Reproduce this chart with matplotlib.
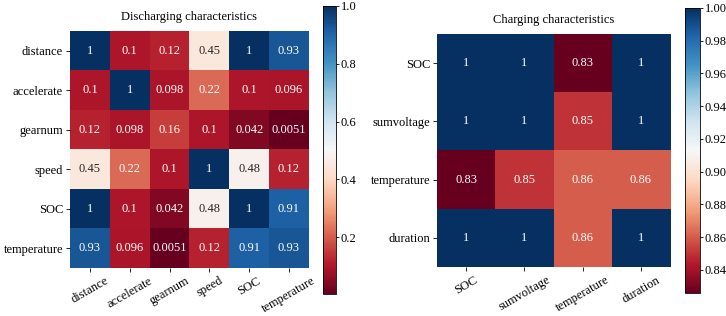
import numpy as np
import matplotlib.pyplot as plt
from matplotlib.colors import Normalize, to_rgb

plt.rcParams["font.family"] = ["Liberation Serif", "DejaVu Serif"]
plt.rcParams["font.size"] = 9

# ---------- data ----------
dis_labels = ["distance", "accelerate", "gearnum", "speed", "SOC", "temperature"]
dis_values = np.array([
    [1, 0.1, 0.12, 0.45, 1, 0.93],
    [0.1, 1, 0.098, 0.22, 0.1, 0.096],
    [0.12, 0.098, 0.16, 0.1, 0.042, 0.0051],
    [0.45, 0.22, 0.1, 1, 0.48, 0.12],
    [1, 0.1, 0.042, 0.48, 1, 0.91],
    [0.93, 0.096, 0.0051, 0.12, 0.91, 0.93],
])

chg_labels = ["SOC", "sumvoltage", "temperature", "duration"]
chg_values = np.array([
    [1, 1, 0.826, 1],
    [1, 1, 0.85, 1],
    [0.826, 0.85, 0.86, 0.86],
    [1, 1, 0.86, 1],
])


def luminance(rgb):
    c = np.array(to_rgb(rgb))
    c = np.where(c <= 0.03928, c / 12.92, ((c + 0.055) / 1.055) ** 2.4)
    return 0.2126 * c[0] + 0.7152 * c[1] + 0.0722 * c[2]


def heatmap(ax, cax, data, labels, title, ticks, fmt):
    cmap = plt.get_cmap("RdBu")
    norm = Normalize(vmin=data.min(), vmax=data.max())
    im = ax.imshow(data, cmap=cmap, norm=norm, aspect="auto")
    n = len(labels)
    for i in range(n):
        for j in range(n):
            col = cmap(norm(data[i, j]))
            tc = "white" if luminance(col) < 0.408 else "#262626"
            ax.text(j, i, format(data[i, j], ".2g"), ha="center", va="center",
                    color=tc, fontsize=9)
    ax.set_xticks(range(n))
    ax.set_yticks(range(n))
    ax.set_xticklabels(labels, rotation=30, ha="center")
    ax.set_yticklabels(labels)
    ax.tick_params(length=3, width=0.6, pad=2)
    for s in ax.spines.values():
        s.set_visible(False)
    ax.set_title(title, fontsize=9, pad=8)
    cb = plt.colorbar(im, cax=cax, ticks=ticks)
    cb.ax.yaxis.set_major_formatter(plt.FormatStrFormatter(fmt))
    cb.ax.tick_params(length=2, width=0.6, pad=1.5, labelsize=9)
    cb.outline.set_linewidth(0.6)


fig = plt.figure(figsize=(7.26, 3.16), dpi=100)
ax1 = fig.add_axes([0.0964, 0.152, 0.329, 0.75])
cax1 = fig.add_axes([0.445, 0.070, 0.0179, 0.912])
ax2 = fig.add_axes([0.602, 0.155, 0.321, 0.737])
cax2 = fig.add_axes([0.9435, 0.073, 0.0207, 0.902])

heatmap(ax1, cax1, dis_values, dis_labels, "Discharging characteristics",
        [0.2, 0.4, 0.6, 0.8, 1.0], "%.1f")
heatmap(ax2, cax2, chg_values, chg_labels, "Charging characteristics",
        [0.84, 0.86, 0.88, 0.90, 0.92, 0.94, 0.96, 0.98, 1.00], "%.2f")

fig.savefig("out.png", dpi=100)
